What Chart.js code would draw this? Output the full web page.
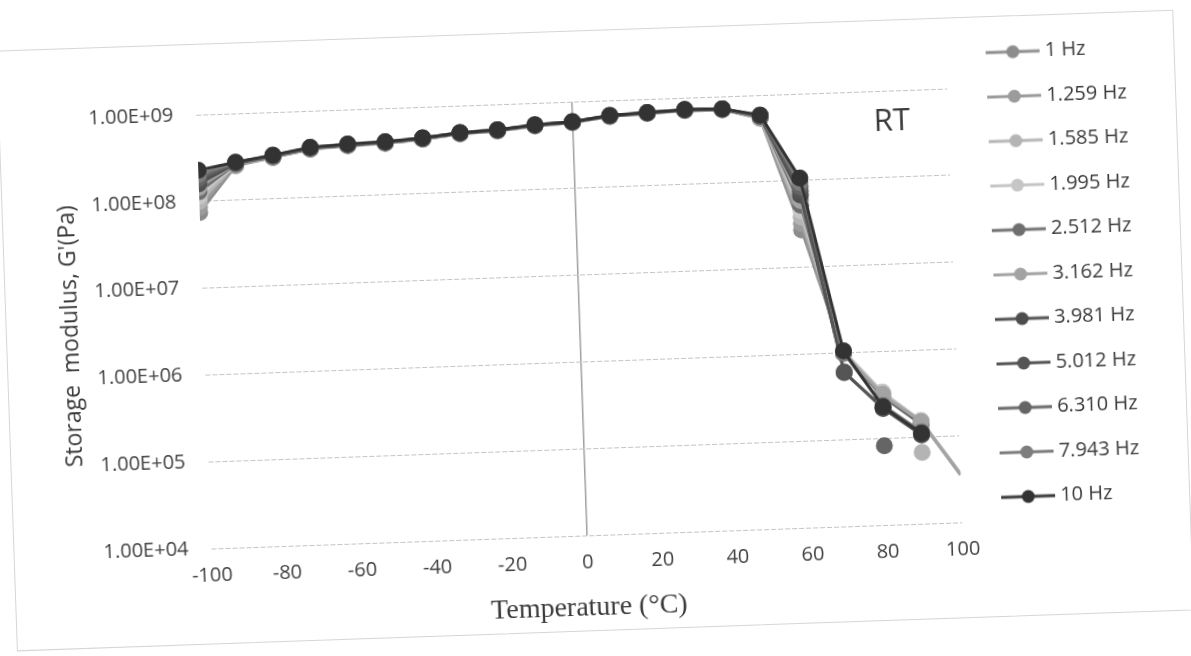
<!DOCTYPE html>
<html>
<head>
<meta charset="utf-8">
<script src="https://cdn.jsdelivr.net/npm/chart.js@4.4.1/dist/chart.umd.min.js"></script>
<style>
  html, body { margin: 0; background: #fff; overflow: hidden; }
  #sheet { position: relative; width: 1191px; height: 656px; transform: rotate(-2deg); transform-origin: 50% 50%; }
  #frame { position: absolute; left: 6px; top: 30px; width: 1178px; height: 601px; border: 1px solid #d6d6d6; box-sizing: border-box; }
  canvas { position: absolute; left: 0; top: 0; }
</style>
</head>
<body>
<div id="sheet">
  <div id="frame"></div>
  <canvas id="myChart" width="1191" height="656"></canvas>
</div>
<script>
// temperature sweep, deg C
var temps = [-100, -90, -80, -70, -60, -50, -40, -30, -20, -10, 0, 10, 20, 30, 40, 50, 60, 70, 80, 90, 100];

// storage modulus G' (Pa) for each frequency
var g1     = [7.5e7, 2.50e8, 3.00e8, 3.60e8, 3.82e8, 3.92e8, 4.22e8, 4.72e8, 4.92e8, 5.42e8, 5.72e8, 6.52e8, 6.82e8, 7.12e8, 7.02e8, 5.40e8, 2.7e7, 9.8e5, 3.3e5, 1.52e5, 3.6e4];
var g1259  = [8.6e7, 2.56e8, 3.02e8, 3.62e8, 3.84e8, 3.94e8, 4.24e8, 4.74e8, 4.94e8, 5.44e8, 5.74e8, 6.54e8, 6.84e8, 7.14e8, 7.04e8, 5.45e8, 3.2e7, 1.0e6, 3.3e5, 1.50e5, 3.5e4];
var g1585  = [1.0e8, 2.58e8, 3.04e8, 3.64e8, 3.86e8, 3.96e8, 4.26e8, 4.76e8, 4.96e8, 5.46e8, 5.76e8, 6.56e8, 6.86e8, 7.16e8, 7.06e8, 5.50e8, 3.8e7, 1.0e6, null, 6.6e4, null];
var g1995  = [1.15e8, 2.60e8, 3.06e8, 3.66e8, 3.88e8, 3.98e8, 4.28e8, 4.78e8, 4.98e8, 5.48e8, 5.78e8, 6.58e8, 6.88e8, 7.18e8, 7.08e8, 5.55e8, 4.5e7, 1.05e6, 3.4e5, 1.55e5, 3.7e4];
var g2512  = [1.3e8, 2.62e8, 3.08e8, 3.68e8, 3.90e8, 4.00e8, 4.30e8, 4.80e8, 5.00e8, 5.50e8, 5.80e8, 6.60e8, 6.90e8, 7.20e8, 7.10e8, 5.60e8, 5.2e7, 1.0e6, 3.0e5, 1.40e5, null];
var g3162  = [1.45e8, 2.64e8, 3.10e8, 3.70e8, 3.92e8, 4.02e8, 4.32e8, 4.82e8, 5.02e8, 5.52e8, 5.82e8, 6.62e8, 6.92e8, 7.22e8, 7.12e8, 5.65e8, 5.9e7, 1.0e6, 3.2e5, 1.50e5, 3.6e4];
var g3981  = [1.6e8, 2.66e8, 3.12e8, 3.72e8, 3.93e8, 4.03e8, 4.33e8, 4.83e8, 5.03e8, 5.53e8, 5.83e8, 6.63e8, 6.93e8, 7.23e8, 7.13e8, 5.70e8, 6.8e7, 6.0e5, 2.2e5, 1.05e5, null];
var g5012  = [1.7e8, 2.68e8, 3.14e8, 3.74e8, 3.95e8, 4.05e8, 4.35e8, 4.85e8, 5.05e8, 5.55e8, 5.85e8, 6.65e8, 6.95e8, 7.25e8, 7.15e8, 5.75e8, 7.6e7, 5.9e5, 2.25e5, 1.09e5, null];
var g6310  = [1.85e8, 2.70e8, 3.16e8, 3.76e8, 3.96e8, 4.06e8, 4.36e8, 4.86e8, 5.06e8, 5.56e8, 5.86e8, 6.66e8, 6.96e8, 7.26e8, 7.16e8, 5.80e8, 8.5e7, null, 8.2e4, null, null];
var g7943  = [2.05e8, 2.72e8, 3.18e8, 3.78e8, 3.98e8, 4.08e8, 4.38e8, 4.88e8, 5.08e8, 5.58e8, 5.88e8, 6.68e8, 6.98e8, 7.28e8, 7.18e8, 5.85e8, 9.5e7, 1.0e6, 2.4e5, 1.15e5, null];
var g10    = [2.3e8, 2.75e8, 3.20e8, 3.80e8, 4.00e8, 4.10e8, 4.40e8, 4.90e8, 5.10e8, 5.60e8, 5.90e8, 6.70e8, 7.00e8, 7.30e8, 7.20e8, 5.90e8, 1.07e8, 1.05e6, 2.3e5, 1.10e5, null];

var seriesNames  = ['1 Hz', '1.259 Hz', '1.585 Hz', '1.995 Hz', '2.512 Hz', '3.162 Hz', '3.981 Hz', '5.012 Hz', '6.310 Hz', '7.943 Hz', '10 Hz'];
var seriesValues = [g1, g1259, g1585, g1995, g2512, g3162, g3981, g5012, g6310, g7943, g10];
var seriesColors = ['#8c8c8c', '#9b9b9b', '#b4b4b4', '#c6c6c6', '#6e6e6e', '#a3a3a3', '#4d4d4d', '#555555', '#656565', '#7d7d7d', '#333333'];

var yTickValues = [1e4, 1e5, 1e6, 1e7, 1e8, 1e9];
var xTickStep = 20;
var rtAt = [85, 4.4e8]; // where the "RT" tag sits (deg C, Pa)

// line-with-dot swatch for the legend
function legendMark(color)
{
  var c = document.createElement('canvas');
  c.width = 54;
  c.height = 16;
  var g = c.getContext('2d');
  g.strokeStyle = color;
  g.lineWidth = 3;
  g.beginPath();
  g.moveTo(0, 8);
  g.lineTo(54, 8);
  g.stroke();
  g.fillStyle = color;
  g.beginPath();
  g.arc(27, 8, 6.5, 0, Math.PI * 2);
  g.fill();
  return c;
}

function sciLabel(v)
{
  var e = Math.round(Math.log10(v));
  return '1.00E+' + (e < 10 ? '0' + e : e);
}

var datasets = seriesNames.map(function(name, i) {
  return {
    label: name,
    xAxisID: 'x',
    yAxisID: 'y',
    data: temps.map(function(t, j) { return {x: t, y: seriesValues[i][j]}; }),
    borderColor: seriesColors[i],
    backgroundColor: seriesColors[i],
    pointBackgroundColor: seriesColors[i],
    pointBorderColor: seriesColors[i],
    borderWidth: 3,
    pointRadius: function(c) { return c.dataIndex === temps.length - 1 ? 0 : 7; },
    pointHoverRadius: 7,
    tension: 0,
    order: seriesNames.length - i   // 10 Hz ends up on top
  };
});

var rtLabel = {
  id: 'rtLabel',
  afterDraw: function(chart) {
    var c = chart.ctx;
    c.save();
    c.font = '31px "Open Sans"';
    c.fillStyle = '#3a3a3a';
    c.textAlign = 'center';
    c.textBaseline = 'middle';
    c.fillText('RT', chart.scales.x.getPixelForValue(rtAt[0]), chart.scales.y.getPixelForValue(rtAt[1]));
    c.restore();
  }
};

var ctx = document.getElementById('myChart').getContext('2d');

var chart = new Chart(ctx, {
  type: 'line',
  data: { datasets: datasets },
  plugins: [rtLabel],
  options: {
    responsive: false,
    animation: false,
    layout: { padding: { top: 32, right: 46.5, bottom: 0, left: 0 } },
    plugins: {
      tooltip: { enabled: false },
      legend: {
        position: 'right',
        align: 'start',
        labels: {
          usePointStyle: true,
          pointStyleWidth: 44,
          padding: 24.5,
          color: '#3a3a3a',
          font: { family: 'Open Sans', size: 20 },
          generateLabels: function(chart) {
            return chart.data.datasets.map(function(ds, i) {
              return {
                text: ds.label,
                pointStyle: legendMark(ds.borderColor),
                fillStyle: ds.borderColor,
                strokeStyle: ds.borderColor,
                lineWidth: 0,
                hidden: false,
                datasetIndex: i,
                fontColor: '#3a3a3a'
              };
            });
          }
        }
      }
    },
    scales: {
      x: {
        type: 'linear',
        position: 'bottom',
        min: -100,
        max: 100,
        afterFit: function(s) { s.height = 121; },
        ticks: {
          stepSize: xTickStep,
          padding: 15,
          color: '#404040',
          font: { family: 'Open Sans', size: 20 }
        },
        grid: {
          drawTicks: false,
          lineWidth: 1.5,
          color: function(c) { return c.tick && c.tick.value === 0 ? '#a0a0a0' : 'rgba(0,0,0,0)'; }
        },
        border: { display: false },
        title: {
          display: true,
          text: 'Temperature (°C)',
          color: '#3a3a3a',
          font: { family: 'Liberation Serif', size: 28 },
          padding: { top: 0, bottom: 32 }
        }
      },
      xTop: {
        type: 'linear',
        position: 'top',
        afterFit: function(s) { s.height = 69; },
        ticks: { display: false },
        grid: { display: false },
        border: { display: false }
      },
      yRight: {
        type: 'linear',
        position: 'right',
        afterFit: function(s) { s.width = 20.5; },
        ticks: { display: false },
        grid: { display: false },
        border: { display: false }
      },
      y: {
        type: 'logarithmic',
        position: 'left',
        min: 1e4,
        max: 1e9,
        afterFit: function(s) { s.width = 204; },
        afterBuildTicks: function(s) {
          s.ticks = yTickValues.map(function(v) { return {value: v}; });
        },
        ticks: {
          padding: 23,
          color: '#404040',
          font: { family: 'Open Sans', size: 20 },
          callback: function(v) { return sciLabel(v); }
        },
        grid: {
          drawTicks: false,
          color: '#c4c4c4',
          lineWidth: 1
        },
        border: { display: false, dash: [5, 2] },
        title: {
          display: true,
          text: "Storage  modulus, G'(Pa)",
          color: '#3a3a3a',
          font: { family: 'Open Sans', size: 23 },
          padding: { top: 58, bottom: 0 }
        }
      }
    }
  }
});
</script>
</body>
</html>
